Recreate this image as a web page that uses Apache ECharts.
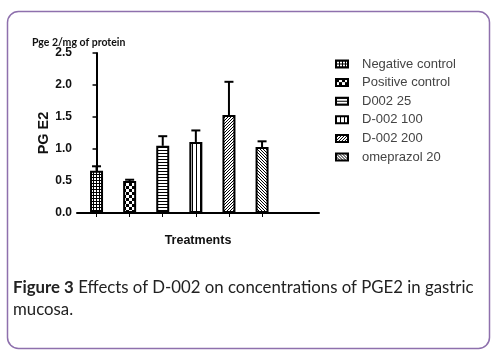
<!DOCTYPE html>
<html>
<head>
<meta charset="utf-8">
<script src="https://cdn.jsdelivr.net/npm/echarts@6/dist/echarts.min.js"></script>
<style>
html,body{margin:0;padding:0;background:#fff;}
#chart{width:493px;height:355px;}
</style>
</head>
<body>
<div id="chart"></div>
<script>
// ---- data ----
var categories = ['Negative control', 'Positive control', 'D002 25', 'D-002 100', 'D-002 200', 'omeprazol 20'];
var means = [0.66, 0.50, 1.05, 1.11, 1.53, 1.03];
var errTops = [0.73, 0.52, 1.20, 1.29, 2.05, 1.12];
var yTicks = [0, 0.5, 1.0, 1.5, 2.0, 2.5];
var xPositions = [0, 1, 2, 3, 4, 5];

// ---- patterns ----
function makePattern(w, h, draw) {
  var c = document.createElement('canvas');
  c.width = w; c.height = h;
  var ctx = c.getContext('2d');
  ctx.fillStyle = '#fff';
  ctx.fillRect(0, 0, w, h);
  ctx.fillStyle = '#000';
  draw(ctx);
  return { image: c, repeat: 'repeat' };
}
var patterns = [
  makePattern(3, 3, function (ctx) { ctx.fillRect(0, 0, 3, 1); ctx.fillRect(0, 0, 1, 3); }),
  makePattern(6, 6, function (ctx) { ctx.fillRect(0, 0, 3, 3); ctx.fillRect(3, 3, 3, 3); }),
  makePattern(4, 3, function (ctx) { ctx.fillRect(0, 0, 4, 1); }),
  makePattern(4, 4, function (ctx) { ctx.fillRect(0, 0, 1, 4); }),
  makePattern(3, 3, function (ctx) { ctx.fillRect(2, 0, 1, 1); ctx.fillRect(1, 1, 1, 1); ctx.fillRect(0, 2, 1, 1); }),
  makePattern(3, 3, function (ctx) { ctx.fillRect(0, 0, 1, 1); ctx.fillRect(1, 1, 1, 1); ctx.fillRect(2, 2, 1, 1); })
];

var chart = echarts.init(document.getElementById('chart'), null, { renderer: 'canvas' });

var series = categories.map(function (name, i) {
  return {
    name: name,
    type: 'bar',
    barWidth: 13,
    barGap: '-100%',
    data: [[xPositions[i], means[i]]],
    itemStyle: { color: patterns[i], borderColor: '#000', borderWidth: 2 },
    emphasis: { disabled: true },
    z: 2
  };
});

series.push({
  type: 'custom',
  name: 'err',
  data: xPositions.map(function (x, i) { return [x, means[i], errTops[i]]; }),
  renderItem: function (params, api) {
    var base = api.coord([api.value(0), api.value(1)]);
    var top = api.coord([api.value(0), api.value(2)]);
    var cap = 4.5;
    return {
      type: 'group',
      children: [
        { type: 'line', shape: { x1: base[0], y1: base[1], x2: top[0], y2: top[1] }, style: { stroke: '#000', lineWidth: 2 } },
        { type: 'line', shape: { x1: top[0] - cap, y1: top[1], x2: top[0] + cap, y2: top[1] }, style: { stroke: '#000', lineWidth: 2 } }
      ]
    };
  },
  z: 3,
  silent: true
});

var option = {
  animation: false,
  backgroundColor: '#fff',
  grid: { left: 77, right: 174, top: 53, bottom: 142, containLabel: false },
  title: {
    text: 'Pge 2/mg of protein',
    left: 32, top: 37, padding: 0,
    textStyle: { fontFamily: 'Lato', fontWeight: 'bold', fontSize: 10.5, color: '#111' }
  },
  legend: {
    data: categories,
    orient: 'vertical',
    left: 335, top: 57, padding: 0,
    icon: 'rect',
    itemWidth: 12, itemHeight: 7,
    itemGap: 4.6,
    selectedMode: false,
    textStyle: { fontFamily: 'Liberation Sans', fontSize: 13, color: '#444', lineHeight: 14, padding: [0, 0, 0, 9] }
  },
  xAxis: {
    type: 'value',
    min: -0.59, max: 6.72,
    name: 'Treatments',
    nameLocation: 'middle',
    nameGap: 21,
    nameTextStyle: { fontFamily: 'Liberation Sans', fontWeight: 'bold', fontSize: 12.5, color: '#111' },
    axisLine: { show: true, lineStyle: { color: '#000', width: 2 } },
    axisTick: { show: true, customValues: xPositions, length: 4, lineStyle: { color: '#000', width: 1 } },
    axisLabel: { show: false },
    splitLine: { show: false }
  },
  yAxis: {
    type: 'value',
    min: yTicks[0], max: yTicks[yTicks.length - 1], interval: 0.5,
    name: 'PG E2',
    nameLocation: 'middle',
    nameGap: 25,
    nameTextStyle: { fontFamily: 'Liberation Sans', fontWeight: 'bold', fontSize: 14.5, color: '#111' },
    axisLine: { show: true, lineStyle: { color: '#000', width: 2 } },
    axisTick: { show: true, length: 4, lineStyle: { color: '#000', width: 1.5 } },
    axisLabel: {
      fontFamily: 'Liberation Sans', fontWeight: 'bold', fontSize: 12, color: '#111', margin: 5,
      formatter: function (v) { return v.toFixed(1); }
    },
    splitLine: { show: false }
  },
  graphic: [
    {
      type: 'rect', left: 5, top: 9, silent: true,
      shape: { width: 482, height: 337, r: 11 },
      style: { fill: 'none', stroke: '#8e70ad', lineWidth: 1.5 }
    },
    {
      type: 'text', left: 13, top: 277, silent: true,
      style: {
        text: '{b|Figure 3} Effects of D-002 on concentrations of PGE2 in gastric\nmucosa.',
        fontFamily: 'Lato', fontSize: 16.8, fill: '#222', lineHeight: 22,
        rich: { b: { fontFamily: 'Lato', fontWeight: 'bold', fontSize: 16.8, fill: '#222', lineHeight: 22 } }
      }
    }
  ],
  series: series
};
chart.setOption(option);
</script>
</body>
</html>
